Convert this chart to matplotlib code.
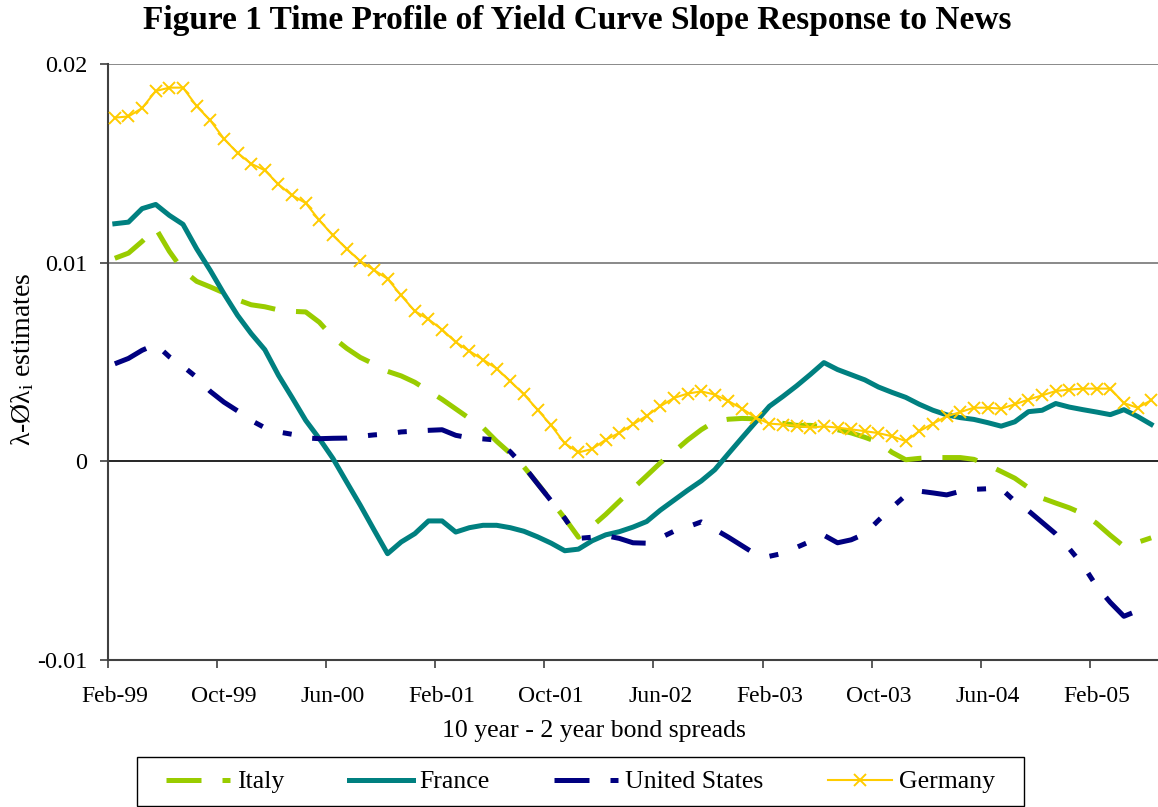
import numpy as np
import matplotlib
matplotlib.use("Agg")
import matplotlib.pyplot as plt
from matplotlib.patches import Rectangle

plt.rcParams['font.family'] = ['Liberation Serif', 'DejaVu Serif']
plt.rcParams['mathtext.fontset'] = 'custom'
plt.rcParams['mathtext.rm'] = 'Liberation Serif'
plt.rcParams['mathtext.it'] = 'Liberation Serif:italic'

tick_labels = ["Feb-99", "Oct-99", "Jun-00", "Feb-01", "Oct-01",
               "Jun-02", "Feb-03", "Oct-03", "Jun-04", "Feb-05"]

italy = [0.01022, 0.01048, 0.01107, 0.01173, 0.01057, 0.00961, 0.00906, 0.00878,
         0.00848, 0.00813, 0.00788, 0.00778, 0.00762, 0.00755, 0.00752, 0.00700,
         0.00624, 0.00569, 0.00523, 0.00490, 0.00453, 0.00430, 0.00398, 0.00355,
         0.00312, 0.00264, 0.00216, 0.00170, 0.00101, 0.00040, -0.00028, -0.00111,
         -0.00199, -0.00287, -0.00382, -0.00327, -0.00267, -0.00201, -0.00137, -0.00073,
         -0.00008, 0.00048, 0.00107, 0.00159, 0.00201, 0.00212, 0.00216, 0.00214,
         0.00204, 0.00191, 0.00181, 0.00181, 0.00174, 0.00159, 0.00143, 0.00121,
         0.00096, 0.00045, 0.00008, 0.00015, 0.00019, 0.00019, 0.00019, 0.00010,
         -0.00018, -0.00051, -0.00085, -0.00133, -0.00185, -0.00210, -0.00234, -0.00264,
         -0.00312, -0.00372, -0.00428, -0.00408, -0.00385]

france = [0.01196, 0.01204, 0.01272, 0.01293, 0.01238, 0.01193, 0.01070, 0.00961,
          0.00844, 0.00735, 0.00643, 0.00562, 0.00433, 0.00321, 0.00206, 0.00114,
          0.00014, -0.00104, -0.00221, -0.00344, -0.00465, -0.00406, -0.00364, -0.00300,
          -0.00300, -0.00356, -0.00334, -0.00322, -0.00322, -0.00334, -0.00352, -0.00380,
          -0.00412, -0.00450, -0.00442, -0.00400, -0.00370, -0.00354, -0.00331, -0.00303,
          -0.00246, -0.00196, -0.00146, -0.00099, -0.00042, 0.00039, 0.00119, 0.00198,
          0.00277, 0.00327, 0.00380, 0.00437, 0.00497, 0.00462, 0.00436, 0.00410,
          0.00374, 0.00347, 0.00322, 0.00287, 0.00257, 0.00234, 0.00220, 0.00211,
          0.00195, 0.00177, 0.00199, 0.00250, 0.00257, 0.00291, 0.00273, 0.00260,
          0.00248, 0.00235, 0.00260, 0.00226, 0.00186]

united_states = [0.00491, 0.00518, 0.00559, 0.00589, 0.00526, 0.00478, 0.00423, 0.00352,
                 0.00298, 0.00254, 0.00206, 0.00169, 0.00148, 0.00136, 0.00118, 0.00114,
                 0.00116, 0.00117, 0.00126, 0.00133, 0.00138, 0.00148, 0.00152, 0.00156,
                 0.00159, 0.00131, 0.00118, 0.00113, 0.00107, 0.00048, -0.00025, -0.00113,
                 -0.00199, -0.00287, -0.00388, -0.00382, -0.00374, -0.00388, -0.00410, -0.00412,
                 -0.00385, -0.00352, -0.00330, -0.00305, -0.00342, -0.00382, -0.00425, -0.00468,
                 -0.00478, -0.00463, -0.00433, -0.00403, -0.00372, -0.00410, -0.00395, -0.00365,
                 -0.00297, -0.00232, -0.00171, -0.00150, -0.00159, -0.00169, -0.00151, -0.00141,
                 -0.00138, -0.00138, -0.00201, -0.00249, -0.00307, -0.00365, -0.00440, -0.00523,
                 -0.00629, -0.00710, -0.00780, -0.00752, -0.00725]

germany = [0.01730, 0.01736, 0.01778, 0.01864, 0.01881, 0.01881, 0.01788, 0.01716,
           0.01624, 0.01552, 0.01498, 0.01465, 0.01394, 0.01339, 0.01300, 0.01213,
           0.01137, 0.01070, 0.01008, 0.00963, 0.00919, 0.00835, 0.00756, 0.00715,
           0.00663, 0.00600, 0.00555, 0.00512, 0.00467, 0.00403, 0.00337, 0.00260,
           0.00181, 0.00090, 0.00045, 0.00062, 0.00109, 0.00143, 0.00186, 0.00229,
           0.00277, 0.00319, 0.00341, 0.00352, 0.00336, 0.00303, 0.00265, 0.00220,
           0.00190, 0.00185, 0.00179, 0.00170, 0.00176, 0.00170, 0.00161, 0.00152,
           0.00142, 0.00126, 0.00102, 0.00152, 0.00190, 0.00226, 0.00248, 0.00270,
           0.00270, 0.00265, 0.00287, 0.00311, 0.00332, 0.00354, 0.00361, 0.00366,
           0.00366, 0.00366, 0.00293, 0.00270, 0.00307]

n = len(germany)
x = np.arange(n)

W, H = 1158, 807
fig = plt.figure(figsize=(W / 100, H / 100), dpi=100)
ax = fig.add_axes([108 / W, (H - 660) / H, (W - 108) / W, (660 - 64) / H])

lw = 3.6
ax.plot(x, italy, color='#99CC00', lw=lw, dashes=(7, 4.2), dash_capstyle='butt',
        zorder=3, label='Italy')
ax.plot(x, france, color='#008080', lw=lw, solid_joinstyle='round', zorder=4, label='France')
ax.plot(x, united_states, color='#000080', lw=lw, dashes=(7, 4.2, 1.8, 4.2, 1.8, 4.2),
        dash_capstyle='butt', zorder=5, label='United States')
ax.plot(x, germany, color='#FFCC00', lw=1.5, marker='x', markersize=8.5,
        markeredgewidth=1.4, zorder=6, label='Germany')

ax.set_xlim(-0.5, n - 0.5)
ax.set_ylim(-0.01, 0.02)

for yv in (0.01, 0.02):
    ax.axhline(yv, color='#808080', lw=1.3, zorder=1)
ax.axhline(0, color='black', lw=1.2, zorder=2)

for s in ('top', 'right'):
    ax.spines[s].set_visible(False)
for s in ('left', 'bottom'):
    ax.spines[s].set_color('#404040')
    ax.spines[s].set_linewidth(1.5)

ax.set_yticks([-0.01, 0, 0.01, 0.02])
ax.set_yticklabels(['-0.01', '0', '0.01', '0.02'])
ax.tick_params(axis='y', direction='out', length=6, width=1.2, color='#404040',
               labelsize=17.5, pad=9)

label_pos = np.arange(0, n, 8)
ax.set_xticks(label_pos - 0.5)
ax.set_xticklabels([])
ax.set_xticks(label_pos, minor=True)
ax.set_xticklabels(tick_labels, minor=True)
ax.tick_params(axis='x', which='major', direction='out', length=6, width=1.2, color='#404040')
ax.tick_params(axis='x', which='minor', length=0, labelsize=17, pad=19)

fig.text(577 / W, 1 - 20 / H, 'Figure 1 Time Profile of Yield Curve Slope Response to News',
         ha='center', va='center', fontsize=24, fontweight='bold')
fig.text(594 / W, 1 - 731 / H, '10 year - 2 year bond spreads', ha='center', va='center',
         fontsize=18.5)
fig.text(23 / W, 1 - 359 / H, r'λ-Øλ$_{\mathrm{i}}$ estimates', ha='center', va='center',
         rotation=90, fontsize=20)

handles, labels = ax.get_legend_handles_labels()
leg = fig.legend(handles, labels, loc='center', bbox_to_anchor=(580.5 / W, 1 - 782 / H),
                 ncol=4, fontsize=18.5, frameon=False, handlelength=2.5,
                 handletextpad=0.27, columnspacing=2.5, borderpad=0.3, borderaxespad=0)
fig.add_artist(Rectangle((137 / W, 1 - 806 / H), (1024 - 137) / W, (806 - 757) / H,
                         transform=fig.transFigure, fill=False, edgecolor='black', lw=1.0))

fig.savefig('out.png', dpi=100)
